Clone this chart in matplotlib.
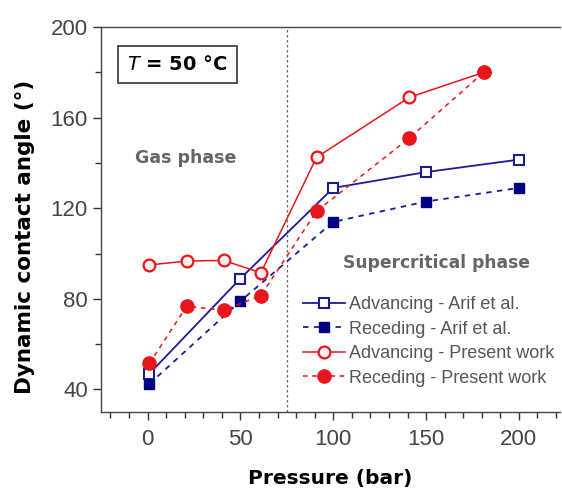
import matplotlib
matplotlib.use("Agg")
import matplotlib.pyplot as plt
from matplotlib.ticker import MultipleLocator

# Data
p_arif = [1, 50, 100, 150, 200]
adv_arif = [47, 89, 129, 136, 141.5]
rec_arif = [42.5, 79, 114, 123, 129]

p_present = [1, 21, 41, 61, 91, 141, 181]
adv_present = [95, 96.7, 97, 91.5, 142.5, 169, 180]
rec_present = [51.5, 76.7, 75, 81.5, 118.7, 151, 180]

phase_boundary = 75
legend_labels = ["Advancing - Arif et al.", "Receding - Arif et al.",
                 "Advancing - Present work", "Receding - Present work"]

plt.rcParams['font.family'] = ['Liberation Sans', 'DejaVu Sans']

fig = plt.figure(figsize=(5.62, 4.93), dpi=100)
ax = fig.add_axes([0.18, 0.164, 0.816, 0.781])

navy = '#1c1c9a'
dnavy = '#000080'
red = '#e8161b'

ax.plot(p_arif, adv_arif, '-', color=navy, lw=1.3, marker='s', ms=7,
        mfc='white', mec=navy, mew=1.5, label=legend_labels[0], zorder=3)
ax.plot(p_arif, rec_arif, '--', color=navy, lw=1.3, marker='s', ms=7.5,
        mfc=dnavy, mec=dnavy, label=legend_labels[1], zorder=3, dashes=(3, 3))
ax.plot(p_present, adv_present, '-', color=red, lw=1.1, marker='o', ms=8.5,
        mfc='#fff0f0', mec=red, mew=1.6, label=legend_labels[2], zorder=4)
ax.plot(p_present, rec_present, '--', color=red, lw=1.1, marker='o', ms=9.5,
        mfc=red, mec=red, label=legend_labels[3], zorder=4, dashes=(3, 3))

ax.axvline(phase_boundary, color='#666666', lw=0.9, ls=(0, (2, 2)), zorder=1)

ax.set_xlim(-25, 222)
ax.set_ylim(30, 200)
ax.xaxis.set_major_locator(MultipleLocator(50))
ax.xaxis.set_minor_locator(MultipleLocator(10))
ax.yaxis.set_minor_locator(MultipleLocator(20))
ax.set_yticks([40, 80, 120, 160, 200])
ax.tick_params(which='major', direction='out', length=6, width=1, colors='#333333',
               labelsize=16, labelcolor='#444444')
ax.tick_params(which='minor', direction='out', length=4, width=1, colors='#333333')
ax.tick_params(axis='x', pad=6)
ax.spines['right'].set_visible(False)
for s in ['left', 'bottom', 'top']:
    ax.spines[s].set_color('#444444')
    ax.spines[s].set_linewidth(1.0)

ax.set_xlabel('Pressure (bar)', fontsize=14.5, fontweight='bold', labelpad=14,
              family=['DejaVu Sans'])
ax.set_ylabel('Dynamic contact angle (°)', fontsize=15.5, fontweight='bold',
              family=['DejaVu Sans'])
ax.yaxis.set_label_coords(-0.144, 0.455)

ax.text(-7, 142, 'Gas phase', fontsize=12.5, fontweight='bold', color='#666666',
        family=['DejaVu Sans'], va='center', ha='left')
ax.text(105, 95.7, 'Supercritical phase', fontsize=12.3, fontweight='bold', color='#666666',
        family=['DejaVu Sans'], va='center', ha='left')

ax.text(-11, 183.4, '$T$ = 50 °C', fontsize=14, fontweight='bold',
        family=['DejaVu Sans'], va='center', ha='left',
        bbox=dict(boxstyle='square,pad=0.46', fc='white', ec='#333333', lw=1.2))

leg = fig.legend(*ax.get_legend_handles_labels(), loc='upper left',
                 bbox_to_anchor=(303 / 562, 1 - 296 / 493), frameon=False,
                 fontsize=13, handlelength=2.3, handletextpad=0.25,
                 labelspacing=0.42, borderpad=0, borderaxespad=0)
for t in leg.get_texts():
    t.set_color('#555555')

fig.savefig('out.png', dpi=100)
